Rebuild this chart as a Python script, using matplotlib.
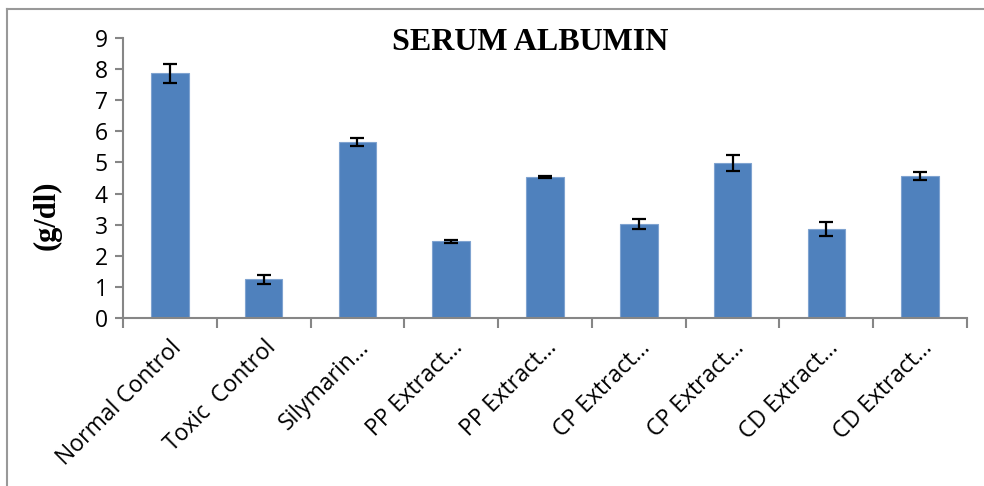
import matplotlib.pyplot as plt
from matplotlib.lines import Line2D
import numpy as np

# Serum albumin values
groups = ["Normal Control", "Toxic  Control", "Silymarin…", "PP Extract…", "PP Extract…",
          "CP Extract…", "CP Extract…", "CD Extract…", "CD Extract…"]
albumin = [7.86, 1.24, 5.67, 2.46, 4.53, 3.03, 4.98, 2.85, 4.57]
albumin_err = [0.31, 0.15, 0.13, 0.05, 0.02, 0.16, 0.25, 0.22, 0.12]

W, H = 984, 486
fig = plt.figure(figsize=(W / 100, H / 100), dpi=100)

# outer frame (cut at right and bottom in the original)
frame_col = "#999999"
fig.add_artist(Line2D([7 / W, 7 / W], [0, 1 - 9 / H], color=frame_col, lw=1.5, transform=fig.transFigure))
fig.add_artist(Line2D([7 / W, 1], [1 - 9 / H, 1 - 9 / H], color=frame_col, lw=1.5, transform=fig.transFigure))

ax = fig.add_axes([123 / W, 1 - 318 / H, (967 - 123) / W, (318 - 38) / H])

x = np.arange(len(groups))
ax.bar(x, albumin, width=0.4, color="#4F81BD", edgecolor="#7FA3D0", linewidth=0.8, zorder=2)
ax.errorbar(x, albumin, yerr=albumin_err, fmt="none", ecolor="black", elinewidth=1.6,
            capsize=5, capthick=1.6, zorder=3)

ax.set_xlim(-0.5, len(groups) - 0.5)
ax.set_ylim(0, 9)
ax.set_yticks(range(0, 10))

axis_col = "#868686"
for s in ["top", "right"]:
    ax.spines[s].set_visible(False)
for s in ["left", "bottom"]:
    ax.spines[s].set_color(axis_col)
    ax.spines[s].set_linewidth(1.5)

tick_font = "Open Sans"
ax.set_yticklabels([str(v) for v in range(0, 10)], fontsize=16.5, family=tick_font)
ax.tick_params(axis="y", length=6, width=1.5, color=axis_col, pad=5)

ax.set_xticks(x)
ax.set_xticklabels(groups, rotation=45, ha="right", rotation_mode="anchor",
                   fontsize=16.5, family=tick_font)
ax.tick_params(axis="x", which="major", length=0, pad=13)
ax.set_xticks(np.arange(-0.5, len(groups), 1), minor=True)
ax.tick_params(axis="x", which="minor", length=7, width=1.5, color=axis_col)

fig.text(530 / W, 1 - 42 / H, "SERUM ALBUMIN", ha="center", va="center",
         fontsize=23, fontweight="bold", family="Liberation Serif")
fig.text(47 / W, 1 - 215 / H, "(g/dl)", ha="center", va="center", rotation=90,
         fontsize=22, fontweight="bold", family="Liberation Serif")

fig.savefig("out.png", dpi=100)
